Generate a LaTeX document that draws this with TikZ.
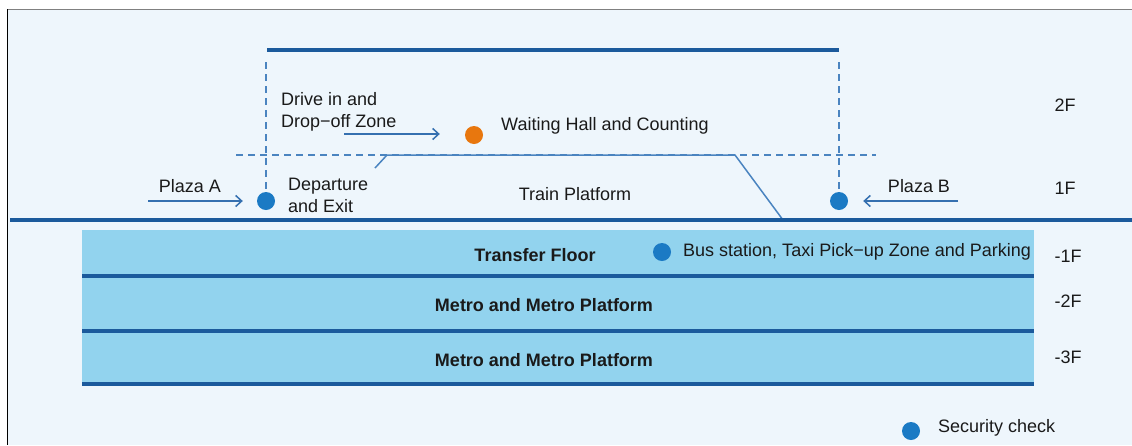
\documentclass[tikz,border=0pt]{standalone}
\usepackage{fontspec}
\setmainfont{Liberation Sans}
\usetikzlibrary{arrows.meta}
\definecolor{bgblue}{HTML}{EEF6FC}
\definecolor{darkblue}{HTML}{1B5A9C}
\definecolor{lineblue}{HTML}{4A84C0}
\definecolor{arrblue}{HTML}{3570B0}
\definecolor{dotblue}{HTML}{1B7AC4}
\definecolor{dotorange}{HTML}{E8770E}
\definecolor{bandblue}{HTML}{92D3EE}
\definecolor{txt}{HTML}{1A1A1A}
\begin{document}
\begin{tikzpicture}[x=1pt,y=-1pt,
  every node/.style={inner sep=0pt, text=txt, font=\fontsize{18}{22}\selectfont},
  lbl/.style={align=left, anchor=west},
  boldlbl/.style={font=\fontsize{18}{22}\selectfont\bfseries},
  secdot/.style={circle, fill=dotblue, minimum size=18pt, inner sep=0pt},
  orgdot/.style={circle, fill=dotorange, minimum size=18pt, inner sep=0pt},
  dsh/.style={draw=lineblue, line width=1.5pt, dash pattern=on 7pt off 5pt},
  outline/.style={draw=lineblue, line width=1.5pt},
  flowarrow/.style={draw=arrblue, line width=1.5pt, -{Straight Barb[length=6pt,width=11pt,line width=1.5pt]}},
  thickline/.style={draw=darkblue, line width=4pt},
  floorline/.style={draw=darkblue, line width=3.5pt}
]
\useasboundingbox (0,0) rectangle (1132,445);
% frame and background
\fill[white] (0,0) rectangle (1132,445);
\fill[bgblue] (7,9) rectangle (1132,445);
\draw[gray, line width=1pt] (7,9) -- (1132,9);
\draw[black, line width=1pt] (7,9) -- (7,445);

% roof line
\coordinate (roofL) at (267,50);
\coordinate (roofR) at (839,50);
\draw[thickline] (roofL) -- (roofR);

% security dots
\node[secdot] (dA) at (266,201) {};
\node[secdot] (dB) at (839,201) {};
\node[orgdot] (dO) at (474,135) {};

% dashed verticals
\coordinate (vA) at (266,62);
\coordinate (vB) at (839,62);
\draw[dsh] (vA) -- (dA.north);
\draw[dsh] (vB) -- (dB.north);

% dashed level line 2F/1F
\coordinate (hL) at (236,155);
\coordinate (hR) at (876,155);
\draw[dsh] (hL) -- (hR);

% platform outline
\coordinate (p1) at (375,168);
\coordinate (p2) at (387,155);
\coordinate (p3) at (735,155);
\coordinate (p4) at (783,220);
\draw[outline] (p1) -- (p2) -- (p3) -- (p4);

% ground floor line
\coordinate (gL) at (10,220);
\coordinate (gR) at (1132,220);
\draw[floorline] (gL) -- (gR);

% arrows
\coordinate (aA) at (148,201);
\draw[flowarrow, shorten >=14pt] (aA) -- (dA);
\coordinate (aB) at (958,201);
\draw[flowarrow, shorten >=15pt] (aB) -- (dB);
\coordinate (aD) at (344,134);
\draw[flowarrow, shorten >=25pt] (aD) -- (aD -| dO.west);

% upper texts
\node (plA) at (190,186) {Plaza A};
\node (plB) at (919,186) {Plaza B};
\node[lbl] (dep) at (288,195) {Departure\\and Exit};
\node[lbl] (drv) at (281,111.5) {Drive in and\\Drop−off Zone};
\node[lbl] (wait) at (501,126) {Waiting Hall and Counting};
\node (train) at (575,194) {Train Platform};
\node (f2) at (1065,105) {2F};
\node (f1) at (1065,188) {1F};

% underground band
\fill[bandblue] (82,230) rectangle (1034,385);
\coordinate (b1L) at (82,276); \coordinate (b1R) at (1034,276);
\coordinate (b2L) at (82,331); \coordinate (b2R) at (1034,331);
\coordinate (b3L) at (82,384); \coordinate (b3R) at (1034,384);
\draw[thickline] (b1L) -- (b1R);
\draw[thickline] (b2L) -- (b2R);
\draw[thickline] (b3L) -- (b3R);

\node[boldlbl] (tf) at (535,255) {Transfer Floor};
\node[boldlbl] (m2) at (544,305) {Metro and Metro Platform};
\node[boldlbl] (m3) at (544,360) {Metro and Metro Platform};
\node[secdot] (dBus) at (662,252) {};
\node[lbl] (bus) at (683,252) {Bus station, Taxi Pick−up Zone and Parking};
\node (fm1) at (1068,256) {-1F};
\node (fm2) at (1068,301) {-2F};
\node (fm3) at (1068,357) {-3F};

% legend
\node[secdot] (dLeg) at (911,431) {};
\node[lbl] (leg) at (938,428) {Security check};
\end{tikzpicture}
\end{document}
